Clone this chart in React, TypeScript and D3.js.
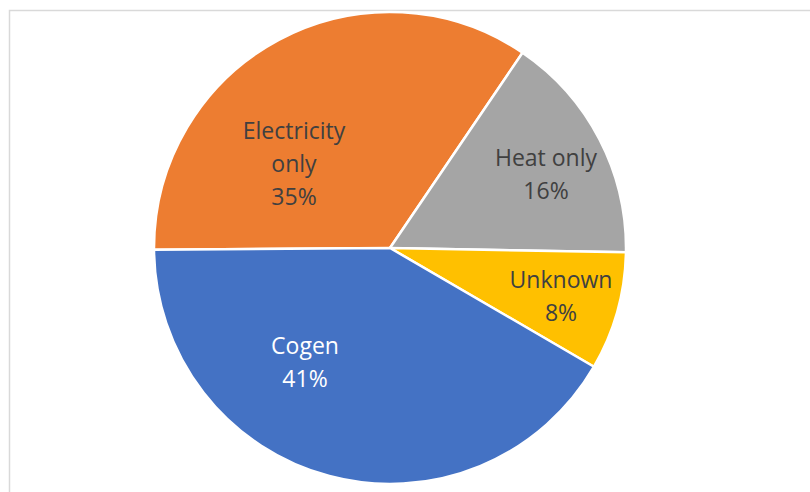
import React from 'react';
import * as d3 from 'd3';

// slice order follows the chart, clockwise from 9 o'clock
const categories = ['Electricity only', 'Heat only', 'Unknown', 'Cogen'];
const shares = [34.6, 15.8, 8.1, 41.5];
const percentLabels = ['35%', '16%', '8%', '41%'];
const labelLines = [['Electricity', 'only'], ['Heat only'], ['Unknown'], ['Cogen']];

const colors = ['#ED7D31', '#A5A5A5', '#FFC000', '#4472C4'];
const textColors = ['#404040', '#404040', '#404040', '#ffffff'];

// label anchors (center x, first baseline) picked to match the best-fit placement
const labelLayout: Record<string, { x: number; y: number }> = {
  'Electricity only': { x: 294, y: 139 },
  'Heat only': { x: 546, y: 166 },
  'Unknown': { x: 561, y: 288 },
  'Cogen': { x: 305, y: 354 },
};

const width = 810;
const height = 492;
const cx = 390;
const cy = 248;
const radius = 236;
const lineHeight = 33;
const startAngle = (-90.4 * Math.PI) / 180;

export default function App() {
  const pie = d3
    .pie<number>()
    .sort(null)
    .value(d => d)
    .startAngle(startAngle)
    .endAngle(startAngle + 2 * Math.PI);
  const arcs = pie(shares);
  const arc = d3.arc<d3.PieArcDatum<number>>().innerRadius(0).outerRadius(radius);

  return (
    <svg
      width={width}
      height={height}
      style={{ position: 'absolute', left: 0, top: 0, display: 'block', background: '#fff' }}
    >
      <rect x={9.5} y={10.5} width={900} height={600} fill="none" stroke="#d9d9d9" strokeWidth={1.5} />
      <g transform={`translate(${cx},${cy})`}>
        {arcs.map((a, i) => (
          <path key={categories[i]} d={arc(a) || ''} fill={colors[i]} stroke="#fff" strokeWidth={2.5} strokeLinejoin="round" />
        ))}
      </g>
      {arcs.map((a, i) => {
        const pos = labelLayout[categories[i]];
        const lines = [...labelLines[i], percentLabels[i]];
        return (
          <text
            key={`lbl-${categories[i]}`}
            x={pos.x}
            y={pos.y}
            textAnchor="middle"
            fontFamily="'Open Sans', sans-serif"
            fontSize={23}
            fill={textColors[i]}
          >
            {lines.map((l, j) => (
              <tspan key={j} x={pos.x} dy={j === 0 ? 0 : lineHeight}>
                {l}
              </tspan>
            ))}
          </text>
        );
      })}
    </svg>
  );
}
